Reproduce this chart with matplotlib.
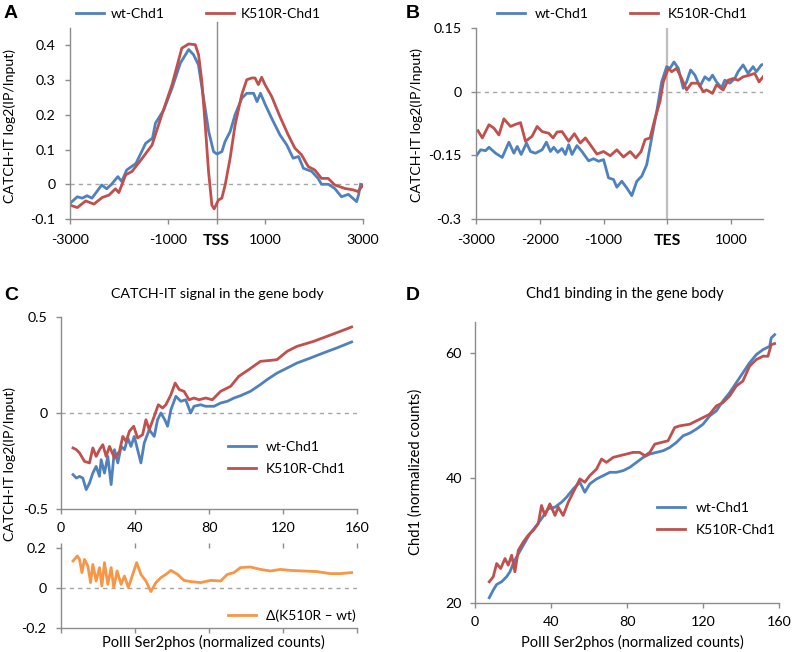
import matplotlib
matplotlib.use('Agg')
import matplotlib.pyplot as plt
import numpy as np

plt.rcParams['font.family'] = ['Lato', 'DejaVu Sans']

BLUE = '#4f81bd'
RED = '#c0504d'
ORANGE = '#f79646'
SPINE = '#8c8c8c'
W, H = 793, 652

# ---- panel A : around TSS ----
a_wt_x = [-3000, -2850, -2750, -2650, -2550, -2350, -2250, -2150, -2020, -1940, -1840, -1650,
          -1450, -1310, -1250, -1080, -910, -740, -570, -470, -370, -265, -160, -60, 10, 110,
          175, 280, 380, 520, 620, 760, 830, 900, 1000, 1130, 1300, 1440, 1570, 1680, 1780,
          1950, 2080, 2150, 2290, 2420, 2560, 2700, 2870, 2910, 2950]
a_wt_y = [-0.055, -0.036, -0.040, -0.033, -0.040, -0.002, -0.013, 0.000, 0.022, 0.008, 0.041, 0.060,
          0.118, 0.133, 0.176, 0.214, 0.277, 0.349, 0.388, 0.373, 0.344, 0.248, 0.152, 0.094, 0.087, 0.094,
          0.123, 0.152, 0.200, 0.248, 0.262, 0.262, 0.238, 0.262, 0.229, 0.190, 0.142, 0.113, 0.075, 0.080, 0.046,
          0.037, 0.017, 0.000, 0.000, -0.012, -0.036, -0.029, -0.050, -0.030, 0.000]
a_mut_x = [-3000, -2850, -2680, -2510, -2340, -2200, -2070, -2000, -1860, -1730, -1520, -1320,
           -1120, -910, -710, -570, -435, -367, -300, -231, -163, -95, -48, 41, 109, 177, 279,
           381, 517, 619, 721, 789, 857, 925, 993, 1129, 1299, 1469, 1605, 1741, 1878, 2014,
           2150, 2286, 2422, 2626, 2796, 2898, 3000]
a_mut_y = [-0.060, -0.067, -0.048, -0.057, -0.038, -0.031, -0.013, -0.024, 0.027, 0.037, 0.075, 0.113,
           0.200, 0.287, 0.392, 0.404, 0.402, 0.373, 0.296, 0.171, 0.037, -0.060, -0.071, -0.045, -0.040,
           -0.002, 0.075, 0.171, 0.258, 0.301, 0.306, 0.306, 0.287, 0.308, 0.287, 0.253, 0.195, 0.142,
           0.104, 0.085, 0.051, 0.041, 0.017, 0.017, -0.002, -0.012, -0.016, -0.021, -0.002]

# ---- panel B : around TES ----
b_wt_x = [-3000, -2927, -2849, -2797, -2693, -2589, -2484, -2406, -2354, -2292, -2208, -2146, -2068,
          -1964, -1896, -1833, -1781, -1719, -1651, -1599, -1547, -1495, -1417, -1339, -1234, -1156,
          -1078, -1000, -922, -844, -792, -714, -635, -557, -479, -401, -323, -245, -167, -89, -10,
          42, 104, 172, 250, 302, 365, 432, 510, 589, 656, 708, 771, 849, 901, 979, 1057, 1109, 1188,
          1266, 1344, 1396, 1474, 1500]
b_wt_y = [-0.152, -0.137, -0.139, -0.131, -0.145, -0.155, -0.119, -0.145, -0.129, -0.148, -0.121, -0.141,
          -0.145, -0.137, -0.119, -0.141, -0.131, -0.143, -0.134, -0.148, -0.125, -0.148, -0.127, -0.141,
          -0.163, -0.158, -0.164, -0.160, -0.203, -0.207, -0.225, -0.211, -0.227, -0.245, -0.211, -0.199,
          -0.172, -0.109, -0.047, 0.023, 0.059, 0.055, 0.070, 0.055, 0.008, 0.023, 0.051, 0.039, 0.012,
          0.035, 0.027, 0.039, 0.023, 0.009, 0.027, 0.020, 0.031, 0.047, 0.063, 0.043, 0.059, 0.047,
          0.063, 0.064]
b_mut_x = [-2969, -2901, -2797, -2719, -2641, -2563, -2458, -2380, -2302, -2224, -2120, -2042, -1964,
           -1859, -1792, -1729, -1651, -1547, -1458, -1365, -1286, -1208, -1104, -1000, -896, -792,
           -688, -583, -495, -411, -349, -271, -193, -115, -63, 16, 68, 146, 224, 302, 380, 484, 563,
           615, 708, 771, 875, 953, 1031, 1109, 1188, 1292, 1370, 1438, 1500]
b_mut_y = [-0.092, -0.109, -0.078, -0.086, -0.102, -0.064, -0.082, -0.077, -0.073, -0.117, -0.105, -0.082,
           -0.094, -0.098, -0.109, -0.095, -0.094, -0.117, -0.099, -0.121, -0.109, -0.125, -0.147, -0.141,
           -0.151, -0.137, -0.154, -0.141, -0.156, -0.141, -0.113, -0.109, -0.063, -0.023, 0.023, 0.055,
           0.047, 0.055, 0.031, 0.004, 0.020, 0.020, 0.000, 0.004, -0.004, 0.016, 0.004, 0.027, 0.031,
           0.027, 0.035, 0.039, 0.043, 0.023, 0.035]

# ---- panel C : CATCH-IT vs PolII Ser2phos ----
c_wt_x = [6.5, 8.3, 10.0, 11.8, 13.6, 15.4, 17.2, 19.0, 20.8, 21.7, 23.5, 25.3, 27.1, 28.9, 30.7, 32.5,
          34.3, 36.1, 37.8, 39.6, 41.4, 43.2, 45.0, 47.7, 50.4, 52.2, 54.0, 56.1, 57.6, 59.4, 62.1, 64.8,
          67.4, 70.1, 71.9, 75.5, 78.2, 82.7, 86.3, 89.9, 93.5, 97.0, 102.4, 107.8, 111.4, 116.8, 122.2,
          127.5, 134.7, 141.9, 149.1, 157.1]
c_wt_y = [-0.321, -0.339, -0.330, -0.339, -0.399, -0.365, -0.313, -0.278, -0.330, -0.243, -0.313, -0.226,
          -0.373, -0.191, -0.260, -0.174, -0.191, -0.130, -0.174, -0.122, -0.191, -0.260, -0.156, -0.087,
          -0.122, -0.035, 0.000, -0.035, -0.069, 0.017, 0.087, 0.061, 0.069, 0.000, 0.035, 0.043, 0.035,
          0.035, 0.052, 0.061, 0.078, 0.090, 0.113, 0.148, 0.174, 0.208, 0.234, 0.260, 0.286, 0.313,
          0.339, 0.370]
c_mut_x = [6.5, 8.3, 10.0, 12.7, 15.4, 17.2, 19.0, 20.8, 22.6, 24.4, 26.2, 28.9, 31.6, 33.4, 35.2, 37.0,
           39.3, 41.4, 44.1, 45.9, 47.7, 50.4, 52.6, 54.9, 56.7, 59.4, 61.7, 63.9, 66.5, 69.2, 71.9, 74.6,
           78.2, 81.8, 86.3, 91.7, 96.1, 101.5, 107.8, 113.2, 116.8, 122.2, 127.5, 136.5, 143.7, 150.9, 157.1]
c_mut_y = [-0.182, -0.191, -0.208, -0.252, -0.260, -0.182, -0.226, -0.191, -0.165, -0.226, -0.174, -0.234,
           -0.200, -0.122, -0.148, -0.095, -0.069, -0.130, -0.113, -0.035, -0.087, -0.017, 0.043, 0.026,
           0.043, 0.095, 0.156, 0.122, 0.113, 0.069, 0.078, 0.069, 0.078, 0.069, 0.113, 0.139, 0.191,
           0.226, 0.269, 0.274, 0.278, 0.321, 0.347, 0.373, 0.399, 0.425, 0.448]
delta_x = [6.5, 8.8, 10.0, 11.3, 12.7, 14.5, 16.0, 17.2, 19.0, 20.8, 22.1, 23.5, 25.3, 27.1, 28.5, 30.3,
           32.5, 34.3, 36.4, 38.2, 40.9, 43.2, 45.9, 48.6, 51.3, 54.0, 56.7, 59.4, 63.0, 66.5, 70.1, 75.5,
           80.9, 86.3, 89.9, 93.5, 97.0, 102.4, 107.8, 113.2, 118.6, 123.9, 131.1, 138.3, 145.5, 150.9, 157.1]
delta_y = [0.135, 0.160, 0.143, 0.077, 0.143, 0.110, 0.027, 0.118, 0.035, 0.102, 0.010, 0.127, 0.018,
           0.102, 0.002, 0.085, 0.018, 0.060, 0.002, 0.052, 0.127, 0.068, 0.035, -0.018, 0.027, 0.052,
           0.068, 0.088, 0.068, 0.038, 0.032, 0.027, 0.038, 0.035, 0.068, 0.077, 0.102, 0.105, 0.093,
           0.085, 0.093, 0.088, 0.085, 0.082, 0.072, 0.072, 0.077]

# ---- panel D : Chd1 binding vs PolII Ser2phos ----
d_wt_x = [7.5, 9.6, 11.4, 14.0, 16.6, 18.4, 20.1, 21.9, 25.4, 28.9, 32.4, 35.0, 38.5, 42.1, 45.6, 48.2,
          51.7, 55.2, 57.8, 60.4, 64.0, 67.5, 71.0, 74.5, 78.0, 81.5, 85.0, 88.5, 92.0, 95.5, 99.0, 102.5,
          106.0, 109.5, 113.0, 116.5, 120.0, 123.5, 127.0, 130.5, 134.0, 137.5, 141.0, 144.5, 148.1,
          151.6, 155.1, 155.9, 157.7]
d_wt_y = [20.85, 22.07, 22.97, 23.40, 24.20, 25.00, 26.32, 27.38, 29.24, 31.10, 32.43, 33.49, 35.09, 35.35,
          36.15, 36.95, 38.27, 39.34, 37.74, 39.07, 39.87, 40.40, 40.93, 40.93, 41.20, 41.73, 42.52, 43.32,
          43.85, 44.12, 44.38, 44.91, 45.71, 46.77, 47.20, 47.84, 48.63, 49.96, 50.76, 52.35, 53.68, 55.27,
          56.87, 58.46, 59.79, 60.58, 61.12, 62.44, 62.97]
d_mut_x = [7.5, 9.6, 11.4, 13.5, 15.8, 17.5, 19.3, 21.0, 22.8, 25.4, 28.0, 30.7, 33.3, 35.0, 36.8, 39.4,
           42.1, 43.8, 46.4, 49.1, 52.6, 55.2, 57.8, 60.4, 64.0, 66.6, 69.2, 72.7, 76.2, 79.7, 83.2, 86.7,
           89.4, 92.0, 94.6, 98.1, 101.6, 105.1, 107.8, 113.0, 116.5, 120.0, 123.5, 127.0, 130.5, 134.0,
           137.5, 141.0, 144.5, 148.1, 151.6, 154.2, 155.9, 157.7]
d_mut_y = [23.40, 24.20, 26.32, 25.52, 27.12, 26.06, 27.65, 25.00, 28.45, 29.77, 30.84, 31.63, 32.70, 35.62,
           34.02, 35.88, 34.02, 35.35, 34.02, 36.15, 38.27, 39.87, 39.34, 40.40, 41.46, 43.05, 42.52, 43.32,
           43.59, 43.85, 44.12, 44.12, 43.59, 44.12, 45.44, 45.71, 45.98, 48.10, 48.37, 48.63, 49.16, 49.69,
           50.23, 51.55, 52.09, 53.15, 54.74, 55.54, 57.93, 58.99, 59.52, 59.52, 61.38, 61.54]


def rect(left, top, right, bottom):
    return [left / W, 1 - bottom / H, (right - left) / W, (bottom - top) / H]


fig = plt.figure(figsize=(W / 100, H / 100), dpi=100)
renderer = fig.canvas.get_renderer()


def fit_size(s, px, weight='normal'):
    # font size that makes the string about px pixels wide
    t = fig.text(0, 0, s, fontsize=10, fontweight=weight)
    w = t.get_window_extent(renderer=renderer).width
    t.remove()
    return 10 * px / w


TICK = fit_size('-3000', 38)
LEG = fit_size('K510R-Chd1', 80)
BOLD = fit_size('TSS', 27, 'bold')


def style(ax, pad=7):
    for s in ['top', 'right']:
        ax.spines[s].set_visible(False)
    for s in ['left', 'bottom']:
        ax.spines[s].set_color(SPINE)
        ax.spines[s].set_linewidth(1)
    ax.tick_params(color=SPINE, labelcolor='black', length=3.5, width=1, labelsize=TICK, pad=pad)


def zero_line(ax):
    ax.axhline(0, color='#a6a6a6', lw=1, ls=(0, (3, 3)), zorder=1)


def put_legend(ax, handles, labels, x, y, **kw):
    opts = dict(loc='center left', bbox_to_anchor=(x / W, 1 - y / H), bbox_transform=fig.transFigure,
                frameon=False, borderpad=0, borderaxespad=0, handlelength=2.0,
                handletextpad=0.7, fontsize=LEG)
    opts.update(kw)
    ax.legend(handles, labels, **opts)


LW = 2

# ---- A ----
axA = fig.add_axes(rect(70, 28, 363, 219))
style(axA)
zero_line(axA)
axA.axvline(0, ymin=0, ymax=1.03, color='#8c8c8c', lw=1, clip_on=False, zorder=1)
la1, = axA.plot(a_wt_x, a_wt_y, color=BLUE, lw=LW)
la2, = axA.plot(a_mut_x, a_mut_y, color=RED, lw=LW)
axA.set_xlim(-3000, 3000)
axA.set_ylim(-0.1, 0.45)
axA.set_yticks([-0.1, 0, 0.1, 0.2, 0.3, 0.4])
axA.set_yticklabels(['-0.1', '0', '0.1', '0.2', '0.3', '0.4'])
axA.set_xticks([-3000, -1000, 0, 1000, 3000])
axA.set_xticklabels(['-3000', '-1000', 'TSS', '1000', '3000'])
axA.get_xticklabels()[2].set_fontweight('bold')
axA.get_xticklabels()[2].set_fontsize(BOLD)
put_legend(axA, [la1, la2], ['wt-Chd1', 'K510R-Chd1'], 76, 14, ncol=2, columnspacing=3.0,
           handletextpad=0.5)

# ---- B ----
axB = fig.add_axes(rect(476, 28, 763, 219))
style(axB)
zero_line(axB)
axB.axvline(0, color='#bfbfbf', lw=1.6, zorder=1)
lb1, = axB.plot(b_wt_x, b_wt_y, color=BLUE, lw=LW)
lb2, = axB.plot(b_mut_x, b_mut_y, color=RED, lw=LW)
axB.set_xlim(-3000, 1500)
axB.set_ylim(-0.3, 0.15)
axB.set_yticks([-0.3, -0.15, 0, 0.15])
axB.set_yticklabels(['-0.3', '-0.15', '0', '0.15'])
axB.set_xticks([-3000, -2000, -1000, 0, 1000])
axB.set_xticklabels(['-3000', '-2000', '-1000', 'TES', '1000'])
axB.get_xticklabels()[3].set_fontweight('bold')
axB.get_xticklabels()[3].set_fontsize(BOLD)
put_legend(axB, [lb1, lb2], ['wt-Chd1', 'K510R-Chd1'], 497, 14, ncol=2, columnspacing=3.0)

# ---- C top ----
axC = fig.add_axes(rect(61, 317, 357, 509))
style(axC, pad=6)
zero_line(axC)
lc1, = axC.plot(c_wt_x, c_wt_y, color=BLUE, lw=LW)
lc2, = axC.plot(c_mut_x, c_mut_y, color=RED, lw=LW)
axC.set_xlim(0, 160)
axC.set_ylim(-0.5, 0.5)
axC.set_xticks([0, 40, 80, 120, 160])
axC.set_yticks([-0.5, 0, 0.5])
axC.set_yticklabels(['-0.5', '0', '0.5'])
put_legend(axC, [lc1, lc2], ['wt-Chd1', 'K510R-Chd1'], 228, 458, labelspacing=0.75,
           handletextpad=0.75)

# ---- C bottom (difference) ----
axCd = fig.add_axes(rect(61, 548, 357, 628))
style(axCd)
zero_line(axCd)
ld, = axCd.plot(delta_x, delta_y, color=ORANGE, lw=LW)
axCd.set_xlim(0, 160)
axCd.set_ylim(-0.2, 0.2)
axCd.set_yticks([-0.2, 0, 0.2])
axCd.set_yticklabels(['-0.2', '0', '0.2'])
axCd.set_xticks([0, 40, 80, 120, 160])
axCd.tick_params(axis='x', top=True, labelbottom=False)
put_legend(axCd, [ld], ['\u0394(K510R \u2013 wt)'], 228, 616, handletextpad=0.75)

# ---- D ----
axD = fig.add_axes(rect(475, 322, 779, 603))
style(axD, pad=6)
ld1, = axD.plot(d_wt_x, d_wt_y, color=BLUE, lw=LW)
ld2, = axD.plot(d_mut_x, d_mut_y, color=RED, lw=LW)
axD.set_xlim(0, 160)
axD.set_ylim(20, 65)
axD.set_xticks([0, 40, 80, 120, 160])
axD.set_yticks([20, 40, 60])
put_legend(axD, [ld1, ld2], ['wt-Chd1', 'K510R-Chd1'], 657, 519, labelspacing=0.75,
           handletextpad=0.8)


# ---- figure texts ----
def ftext(x, y, s, px=None, **kw):
    if px is not None:
        kw['fontsize'] = fit_size(s, px)
    fig.text(x / W, 1 - y / H, s, **kw)


ylab = 'CATCH-IT log2(IP/Input)'
yl_size = fit_size(ylab, 154)
ftext(10, 126, ylab, rotation=90, ha='center', va='center', fontsize=yl_size)
ftext(417, 125, ylab, rotation=90, ha='center', va='center', fontsize=yl_size)
ftext(10, 464, ylab, rotation=90, ha='center', va='center', fontsize=yl_size)
ftext(416, 472, 'Chd1 (normalized counts)', px=167, rotation=90, ha='center', va='center')
ftext(217, 294, 'CATCH-IT signal in the gene body', px=212, ha='center', va='center')
ftext(625, 294, 'Chd1 binding in the gene body', px=197, ha='center', va='center')
xlab = 'PolII Ser2phos (normalized counts)'
ftext(213, 642, xlab, px=223, ha='center', va='center')
ftext(632, 642, xlab, px=223, ha='center', va='center')

for letter, x, y in [('A', 4, 13), ('B', 406, 13), ('C', 4, 296), ('D', 406, 296)]:
    ftext(x, y, letter, ha='left', va='center', fontsize=14, fontweight='bold',
          family='Liberation Sans')

fig.savefig('out.png', dpi=100)
